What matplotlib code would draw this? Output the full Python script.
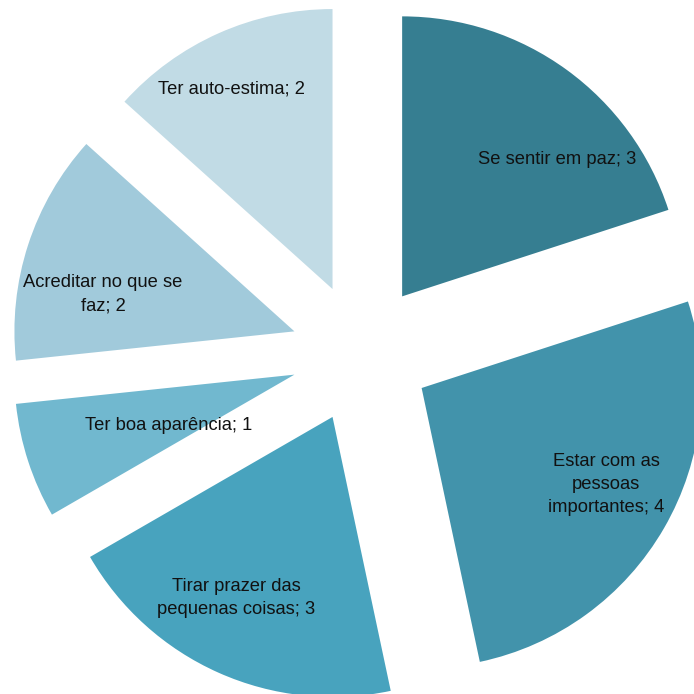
import matplotlib.pyplot as plt

labels = [
    "Se sentir em paz",
    "Estar com as\npessoas\nimportantes",
    "Tirar prazer das\npequenas coisas",
    "Ter boa aparência",
    "Acreditar no que se\nfaz",
    "Ter auto-estima",
]
values = [3, 4, 3, 1, 2, 2]
colors = ["#367E91", "#4293AB", "#48A3BE", "#71B8CF", "#A1CADB", "#C1DBE5"]

# where each label sits, in pie units from the centre
label_xy = [
    (0.70, 0.69),
    (0.875, -0.47),
    (-0.446, -0.875),
    (-0.686, -0.26),
    (-0.921, 0.21),
    (-0.461, 0.943),
]

fig = plt.figure(figsize=(6.94, 6.94), dpi=100)
ax = fig.add_axes([0, 0, 1, 1])

ax.pie(
    values,
    colors=colors,
    startangle=90,
    counterclock=False,
    explode=[0.25] * len(values),
    radius=1.0,
    wedgeprops={"linewidth": 0},
)

for (x, y), lab, v in zip(label_xy, labels, values):
    ax.text(x, y, f"{lab}; {v}", ha="center", va="center",
            multialignment="center", fontsize=13.2, family="Liberation Sans",
            linespacing=1.45, color="#111111")

# pie is larger than the canvas, so the right and bottom edges get cut
ax.set_xlim(-361 / 280, (694 - 361) / 280)
ax.set_ylim(-(694 - 353) / 280, 353 / 280)
ax.set_aspect("auto")
ax.axis("off")

fig.savefig("out.png", dpi=100)
